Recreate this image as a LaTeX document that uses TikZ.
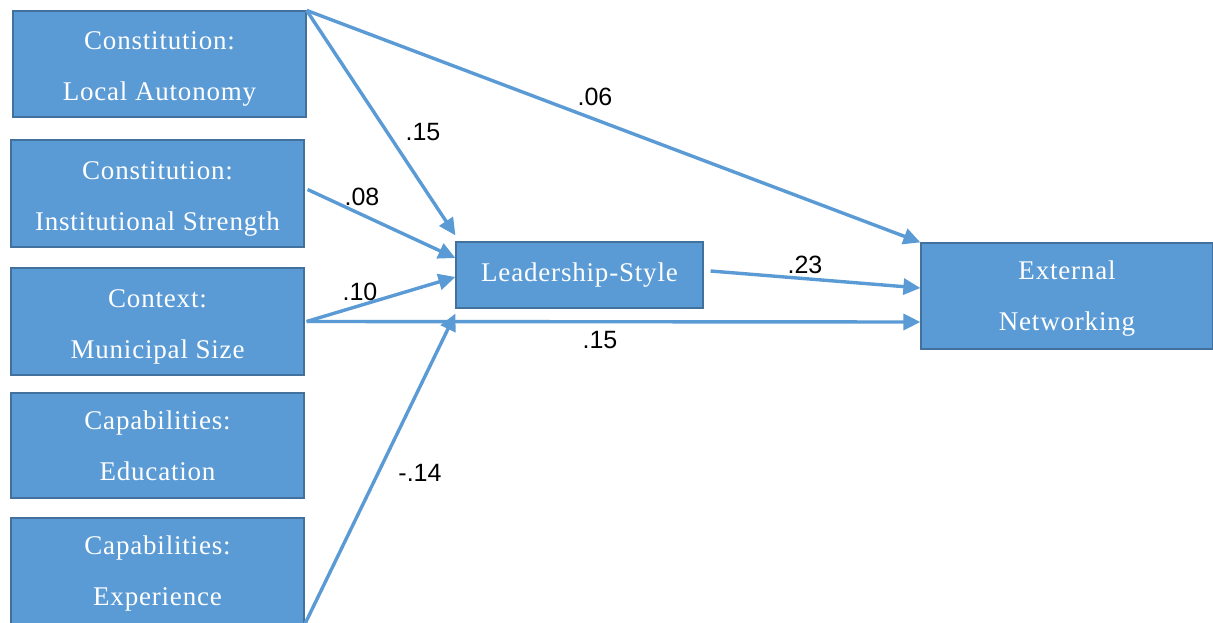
\documentclass[tikz,border=0pt]{standalone}
\usepackage{fontspec}
\setmainfont{Liberation Serif}
\newfontfamily\labfont{Liberation Sans}
\usetikzlibrary{arrows.meta}
\definecolor{boxfill}{HTML}{5B9BD5}
\definecolor{boxline}{HTML}{41719C}
\definecolor{arrowc}{HTML}{5B9BD5}
\newcommand\twolines[3]{\raisebox{-#1pt}[\height][\depth]{#2}\\\raisebox{-#1pt}[\height][\depth]{#3}}
\tikzset{
  varbox/.style={draw=boxline, line width=1.2pt, fill=boxfill, text=white,
    inner sep=0pt, align=center,
    font=\fontsize{27}{51}\selectfont\addfontfeature{LetterSpace=3}},
  path arrow/.style={draw=arrowc, line width=3.4pt,
    -{Triangle[length=17pt,width=16pt]}},
  coef/.style={font=\labfont\fontsize{25}{28}\selectfont, text=black, inner sep=0pt}
}
\begin{document}
\begin{tikzpicture}[x=1pt,y=-1pt]
\clip (0,0) rectangle (1213,623);
\fill[white] (0,0) rectangle (1213,623);
% left boxes
\node[varbox, minimum width=293pt, minimum height=106pt] (b1) at (159.5,64) {\twolines{5}{Constitution:}{Local Autonomy}};
\node[varbox, minimum width=293pt, minimum height=107pt] (b2) at (157.5,193.5) {\twolines{5}{Constitution:}{Institutional Strength}};
\node[varbox, minimum width=293pt, minimum height=107pt] (b3) at (157.5,321.5) {\twolines{5}{Context:}{Municipal Size}};
\node[varbox, minimum width=293pt, minimum height=105pt] (b4) at (157.5,445.5) {\twolines{0}{Capabilities:}{Education}};
\node[varbox, minimum width=293pt, minimum height=106pt] (b5) at (157.5,571) {\twolines{3}{Capabilities:}{Experience}};
% mediator and outcome
\node[varbox, minimum width=247pt, minimum height=66pt] (L) at (579.5,275) {Leadership-Style};
\node[varbox, minimum width=292pt, minimum height=106pt] (E) at (1067,296) {\twolines{3}{External}{Networking}};
% paths
\draw[path arrow] (b1.north east) -- ([shift={(0,-6)}]L.north west);
\draw[path arrow] (b1.north east) -- (E.north west);
\draw[path arrow] ([shift={(3,-4)}]b2.east) -- ([shift={(0,-17)}]L.west);
\draw[path arrow] ([shift={(2,0)}]b3.east) -- ([shift={(0,2)}]L.west);
\draw[path arrow] ([shift={(2,0)}]b3.east) -- ([shift={(0,26)}]E.west);
\draw[path arrow] (b5.south east) -- ([shift={(0,5)}]L.south west);
\draw[path arrow] ([shift={(7,-4)}]L.east) -- ([shift={(0,-8)}]E.west);
% coefficients
\node[coef] (c1) at (423,132) {.15};
\node[coef] (c2) at (595,97) {.06};
\node[coef] (c3) at (362,197) {.08};
\node[coef] (c4) at (360,292) {.10};
\node[coef] (c5) at (805,265) {.23};
\node[coef] (c6) at (600,340) {.15};
\node[coef] (c7) at (420,473) {-.14};
\end{tikzpicture}
\end{document}
